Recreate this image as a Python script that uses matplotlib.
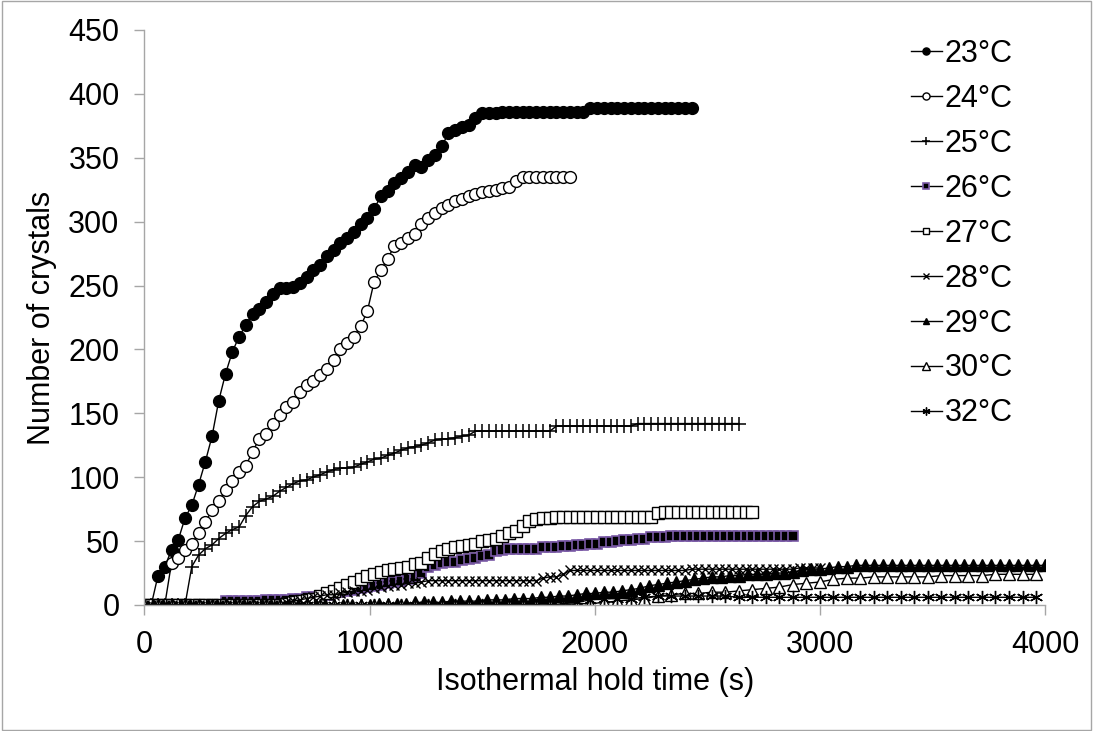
import numpy as np
import matplotlib.pyplot as plt
from matplotlib.patches import Rectangle

plt.rcParams['font.family'] = ['Liberation Sans', 'DejaVu Sans']

# crystal counts, one list per hold temperature
t23 = np.arange(0, 2431, 30)
n23 = [0, 0, 23, 30, 43, 51, 68, 78, 94, 112,
       132, 160, 181, 198, 210, 219, 228, 232, 237, 243,
       248, 248, 249, 252, 257, 262, 266, 273, 278, 283,
       287, 292, 298, 303, 310, 320, 324, 330, 334, 339,
       344, 343, 348, 352, 359, 369, 372, 374, 376, 381,
       385, 385, 385, 386, 386, 386, 386, 386, 386, 386,
       386, 386, 386, 386, 386, 386, 389, 389, 389, 389] + [389] * 12

t24 = np.arange(0, 1891, 30)
n24 = [0, 0, 0, 0, 33, 37, 43, 48, 56, 65,
       74, 81, 90, 97, 104, 109, 120, 130, 134, 142,
       149, 155, 159, 167, 172, 175, 180, 185, 192, 200,
       205, 210, 218, 230, 253, 262, 271, 281, 283, 287,
       290, 298, 303, 307, 311, 313, 316, 318, 320, 322,
       323, 324, 325, 326, 327, 332, 335] + [335] * 7

t25 = np.arange(0, 2641, 30)
n25 = [0] * 7 + [30, 39, 44, 47, 52, 56, 59, 61, 70, 77,
                 81, 83, 85, 89, 92, 95, 97, 98, 100, 102,
                 104, 106, 107, 107, 108, 110, 112, 114, 115, 117,
                 119, 121, 123, 124, 125, 127, 129, 130, 130, 131,
                 132, 133, 136] + [136] * 11 + [140] * 12 + [142] * 16

t26 = np.arange(0, 2881, 30)
n26 = [0] * 12 + [3, 3, 3, 3, 3, 3, 4, 4, 4, 4,
                  5, 5, 6, 6, 7, 8, 9, 10, 11, 12,
                  13, 14, 15, 16, 17, 18, 19, 20, 22, 25,
                  30, 31, 33, 34, 34, 35, 36, 37, 38, 39,
                  42, 43, 44, 44, 44, 44, 44, 45, 45, 45,
                  46, 46, 47, 47, 48, 48, 49, 49, 50, 51,
                  51, 52, 52, 53, 53, 53] + [54] * 19

t27 = np.arange(0, 2701, 30)
n27 = [0] * 21 + [1, 2, 3, 4, 5, 7, 9, 11, 13, 16,
                  18, 20, 23, 24, 26, 27, 28, 29, 30, 32,
                  33, 37, 40, 42, 44, 45, 46, 47, 48, 50,
                  51, 52, 54, 56, 58, 62, 66, 67, 68, 68] + [69] * 15 + [72] + [73] * 14

t28 = np.arange(0, 3001, 30)
n28 = [0] * 21 + [2, 3, 4, 5, 6, 7, 8, 8, 9, 10,
                  11, 11, 12, 13, 14, 15, 16, 16, 17, 17,
                  18] + [19] * 17 + [21, 22, 22, 24] + [27] * 18 + [28] * 16 + [29] * 4

t29 = np.arange(0, 4001, 40)
n29 = [0] * 26 + [1, 1, 1, 1, 2, 2, 2, 2, 3, 3,
                  3, 3, 4, 4, 4, 5, 5, 5, 6, 6,
                  7, 7, 8, 9, 9, 10, 10, 11, 12, 13,
                  15, 16, 17, 18, 19, 20, 21, 22, 22, 23,
                  23, 24, 24, 24, 25, 25, 26, 27, 28, 28,
                  29, 30, 30, 31] + [31] * 21

t30 = np.arange(0, 3961, 60)
n30 = [0] * 32 + [1, 1, 2, 3, 4, 5, 7, 8, 9, 9,
                  10, 10, 11, 12, 13, 14, 16, 17, 18, 20,
                  21, 21, 22, 22, 22, 22, 22, 23, 23, 23,
                  23, 24, 24, 24, 24]

t32 = np.arange(0, 3961, 60)
n32 = [0] * 31 + [1, 2, 4, 5, 5, 5, 6, 7, 7, 7, 7, 7, 7, 6] + [6] * 22

purple = '#7a5aa6'
series = [
    ('23°C', t23, n23, dict(marker='o', ms=8.5, mfc='black', mec='black')),
    ('24°C', t24, n24, dict(marker='o', ms=8.5, mfc='white', mec='black', mew=1.0)),
    ('25°C', t25, n25, dict(marker='+', ms=9.5, mec='black', mew=1.1)),
    ('26°C', t26, n26, dict(marker='s', ms=7.5, mfc='black', mec=purple, mew=1.2)),
    ('27°C', t27, n27, dict(marker='s', ms=8, mfc='white', mec='black', mew=1.0)),
    ('28°C', t28, n28, dict(marker='x', ms=7, mec='black', mew=1.0)),
    ('29°C', t29, n29, dict(marker='^', ms=8, mfc='black', mec='black')),
    ('30°C', t30, n30, dict(marker='^', ms=8.5, mfc='white', mec='black', mew=1.0)),
    ('32°C', t32, n32, dict(marker=(6, 2, 0), ms=9.5, mec='black', mew=1.0)),
]

fig = plt.figure(figsize=(10.93, 7.31), dpi=100)
ax = fig.add_axes([0.1322, 0.1724, 0.8239, 0.7866])

for label, t, n, style in series:
    ax.plot(t, n, color='black', lw=1.0, label=label, **style)

ax.set_xlim(0, 4000)
ax.set_ylim(0, 450)
ax.set_xticks([0, 1000, 2000, 3000, 4000])
ax.set_yticks(np.arange(0, 451, 50))

for side in ['top', 'right']:
    ax.spines[side].set_visible(False)
for side in ['left', 'bottom']:
    ax.spines[side].set_color('#a6a6a6')
    ax.spines[side].set_linewidth(1.0)

ax.tick_params(axis='both', colors='#a6a6a6', labelcolor='black',
               length=7, width=1.0, labelsize=22)
ax.tick_params(axis='y', pad=11)
ax.tick_params(axis='x', pad=11)

ax.set_xlabel('Isothermal hold time (s)', fontsize=22, labelpad=5)
ax.set_ylabel('Number of crystals', fontsize=22, labelpad=8)

leg = ax.legend(loc='upper left', bbox_to_anchor=(0.8195, 0.968),
                bbox_transform=fig.transFigure, frameon=False,
                fontsize=22, handlelength=1.0, handletextpad=0.1,
                labelspacing=0.49, borderpad=0, markerscale=0.6)

# thin chart-area border like the source
fig.patches.append(Rectangle((0.002, 0.002), 0.996, 0.996, transform=fig.transFigure,
                             fill=False, edgecolor='#a6a6a6', lw=1.0))

fig.savefig('out.png', dpi=100)
